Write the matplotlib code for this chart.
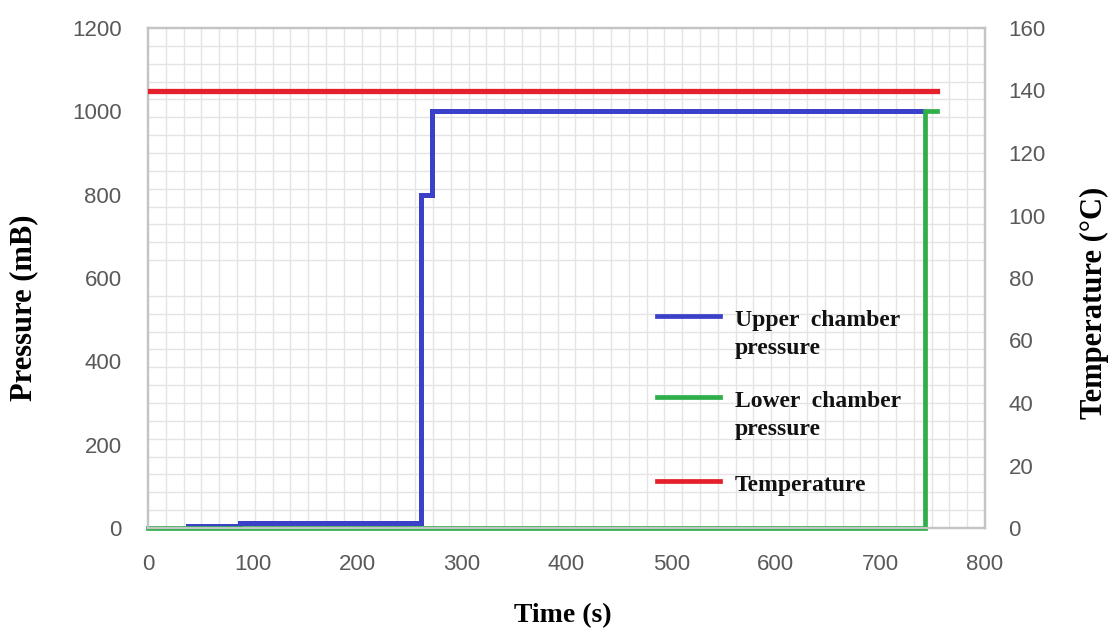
import matplotlib
matplotlib.use("Agg")
import matplotlib.pyplot as plt
from matplotlib.ticker import MultipleLocator

# Data
upper_t = [38, 88, 261, 271, 740]
upper_p = [6, 12, 800, 1000, 1000]

lower_t = [0, 743, 743, 754]
lower_p = [0, 0, 1000, 1000]

temp_t = [0, 754]
temp_c = [140, 140]

legend_labels = ["Upper  chamber\npressure", "Lower  chamber\npressure", "Temperature"]

BLUE = "#3a40c8"
GREEN = "#2fae4a"
RED = "#e3202b"
GRAY = "#595959"
SPINE = "#c4c4c4"

fig = plt.figure(figsize=(11.11, 6.31), dpi=100)
ax = fig.add_axes([148 / 1111, 1 - 528 / 631, 837 / 1111, 500 / 631])
ax2 = ax.twinx()

ax.plot(upper_t, upper_p, drawstyle="steps-post", color=BLUE, lw=3.6,
        solid_joinstyle="miter", zorder=3)
ax.plot(lower_t, lower_p, color=GREEN, lw=3.4, solid_joinstyle="miter",
        clip_on=False, zorder=4)
ax2.plot(temp_t, temp_c, color=RED, lw=3.8, zorder=5)

ax.set_xlim(0, 800)
ax.set_ylim(0, 1200)
ax2.set_ylim(0, 160)

ax.xaxis.set_major_locator(MultipleLocator(100))
ax.yaxis.set_major_locator(MultipleLocator(200))
ax2.yaxis.set_major_locator(MultipleLocator(20))

# background grid of small squares
ax.xaxis.set_minor_locator(MultipleLocator(800 / 47))
ax.yaxis.set_minor_locator(MultipleLocator(1200 / 28))
ax.grid(which="minor", color="#e4e4e4", lw=1.0)
ax.grid(which="major", visible=False)
ax.set_axisbelow(True)

for a in (ax, ax2):
    a.tick_params(which="both", length=0, colors=GRAY)
    for lab in a.get_xticklabels() + a.get_yticklabels():
        lab.set_fontfamily("Liberation Sans")
        lab.set_fontsize(16)
ax.tick_params(axis="y", pad=19)
ax.tick_params(axis="x", pad=19)
ax2.tick_params(axis="y", pad=17)

for a in (ax, ax2):
    for s in a.spines.values():
        s.set_color(SPINE)
        s.set_linewidth(1.6)

label_font = dict(family="Liberation Serif", weight="bold")
ax.set_xlabel("Time (s)", fontsize=20, **label_font)
ax.xaxis.set_label_coords(0.495, -0.15)
ax.set_ylabel("Pressure (mB)", fontsize=22, **label_font)
ax.yaxis.set_label_coords(-0.131, 0.44)
ax2.set_ylabel("Temperature (°C)", fontsize=22, **label_font)
ax2.yaxis.set_label_coords(1.1135, 0.45)

# hand-placed legend, handle aligned with the first text line
handle_y = [0.424, 0.262, 0.094]
for color, label, y in zip([BLUE, GREEN, RED], legend_labels, handle_y):
    ax.plot([0.608, 0.683], [y, y], color=color, lw=3.4,
            transform=ax.transAxes, zorder=6)
    ax.text(0.701, y + 0.012, label, transform=ax.transAxes, ha="left",
            va="top", fontsize=17, linespacing=1.42, zorder=6,
            color="#111111", **label_font)

fig.savefig("out.png", dpi=100)
